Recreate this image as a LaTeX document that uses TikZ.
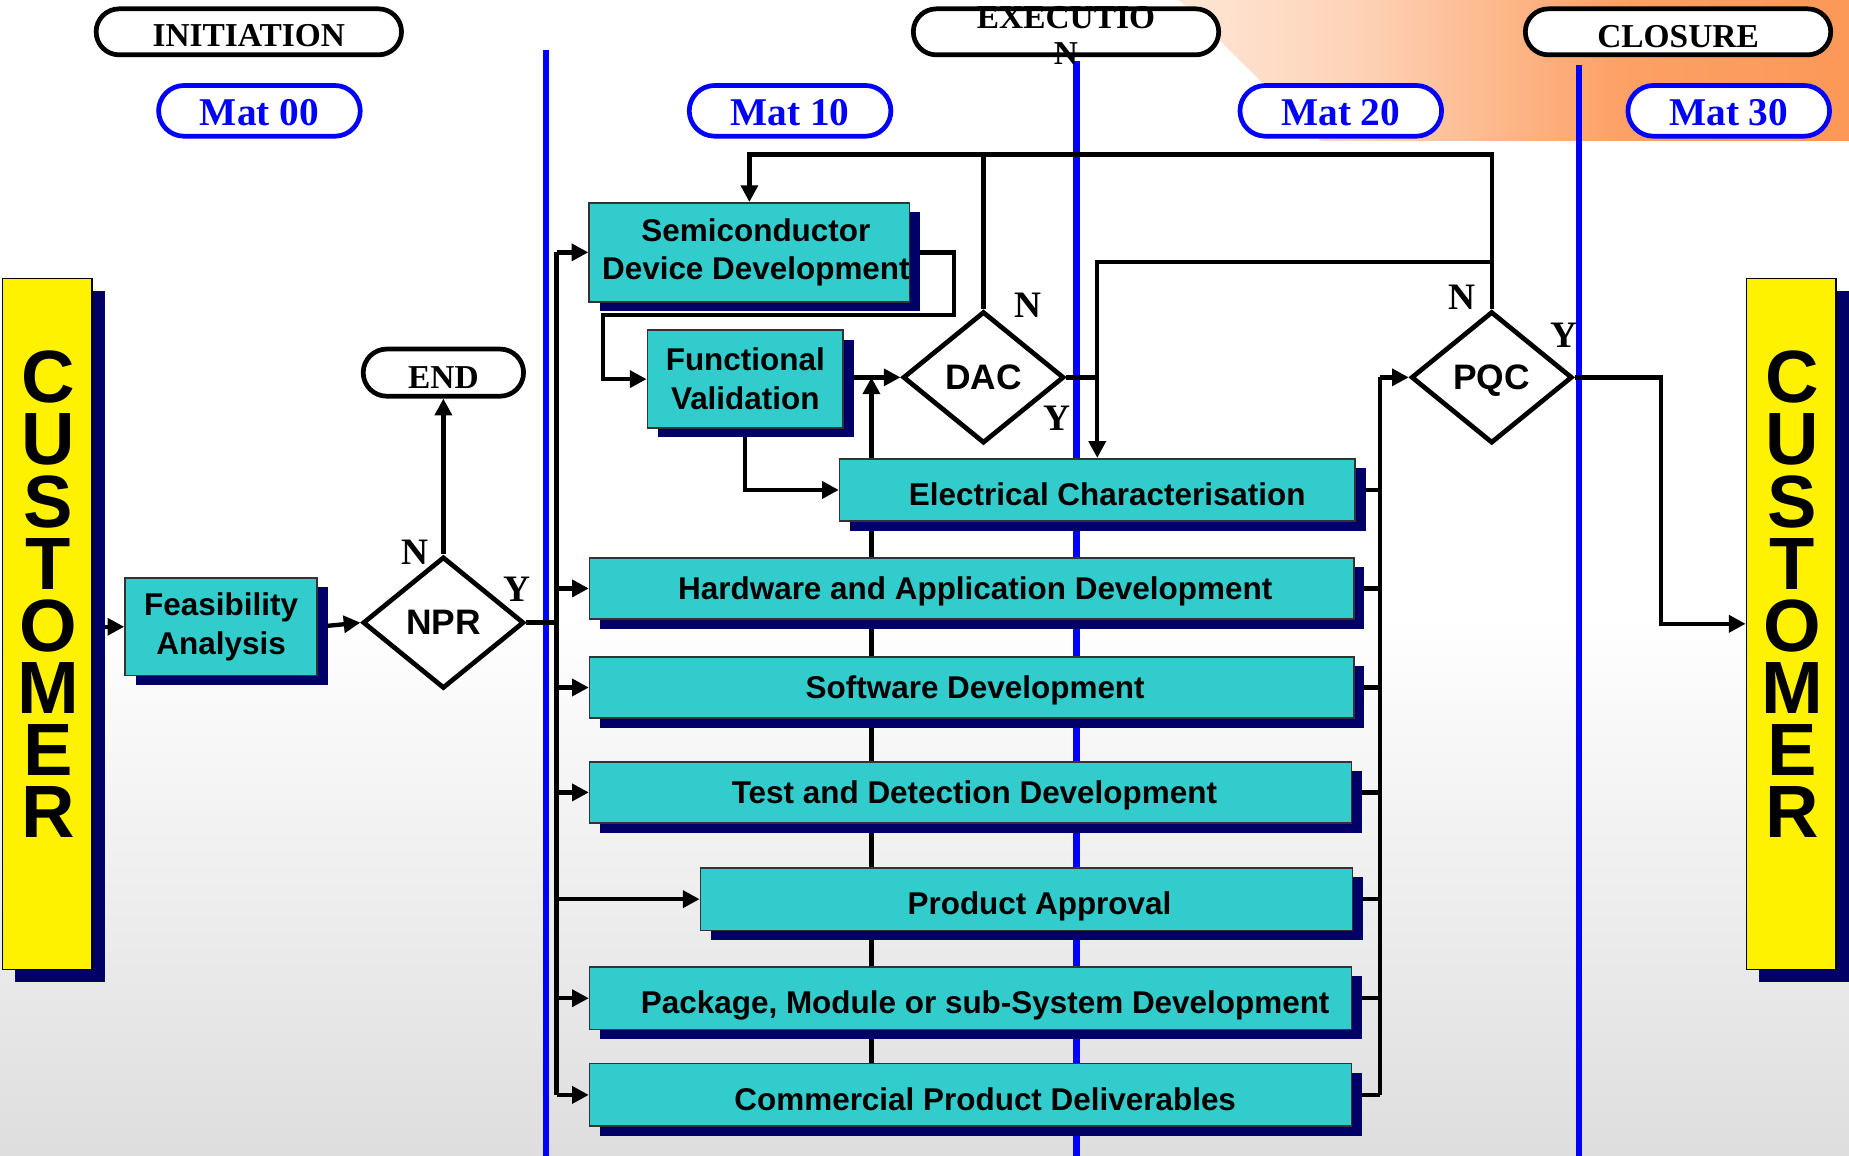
\documentclass[tikz,border=0pt]{standalone}
\usepackage{fontspec}
\setmainfont{Liberation Serif}
\setsansfont{Liberation Sans}
\usetikzlibrary{shapes.geometric,shapes.misc,arrows.meta,shadows,calc}
\definecolor{teal1}{HTML}{33CCCC}
\definecolor{navy1}{HTML}{000066}
\definecolor{blue1}{HTML}{0000FF}
\definecolor{orng}{RGB}{252,140,68}
\pgfdeclarehorizontalshading{banner}{100bp}{color(0bp)=(white); color(7bp)=(white); color(38bp)=(orng!38); color(58bp)=(orng!82); color(100bp)=(orng)}
\pgfdeclarelayer{bg}
\pgfdeclarelayer{conn}
\pgfsetlayers{bg,conn,main}
\newcommand{\dn}[2]{\raisebox{-#1}[\height][\depth]{#2}}
\begin{document}
\begin{tikzpicture}[x=0.6pt,y=-0.6pt,
  arr/.style={line width=2.2pt,-{Triangle[length=8.5pt,width=8.5pt]}},
  ln/.style={line width=2.2pt},
  box/.style={draw=black!80,line width=0.8pt,fill=teal1,font=\sffamily\bfseries\fontsize{16}{19.8}\selectfont,align=center,inner sep=0pt,drop shadow={shadow xshift=5.4pt,shadow yshift=-4.8pt,fill=navy1,opacity=1}},
  box1/.style={box,text depth=0pt},
  dia/.style={diamond,draw,line width=2.4pt,fill=white,minimum width=82pt,minimum height=67pt,inner sep=0pt,text depth=0pt,font=\sffamily\bfseries\fontsize{18}{20}\selectfont},
  hdr/.style={rounded rectangle,draw,line width=2.4pt,fill=white,minimum width=155.4pt,minimum height=23.4pt,inner sep=0pt,font=\bfseries\fontsize{17}{18}\selectfont},
  mat/.style={rounded rectangle,draw=blue1,line width=2.4pt,fill=white,text=blue1,minimum width=102.6pt,minimum height=25.8pt,inner sep=0pt,font=\bfseries\fontsize{20}{22}\selectfont},
  yn/.style={font=\bfseries\fontsize{19}{20}\selectfont,inner sep=0pt},
  cust/.style={draw=black,line width=0.8pt,fill=yellow,minimum width=45.6pt,minimum height=351.6pt,inner sep=0pt,drop shadow={shadow xshift=6.6pt,shadow yshift=-6.6pt,fill=navy1,opacity=1}},
  custtxt/.style={inner sep=0pt,font=\sffamily\bfseries\fontsize{37.7}{40}\selectfont},
  phase/.style={draw=blue1,line width=3.3pt}
]
\useasboundingbox (0,0) rectangle (1568,980);
\begin{pgfonlayer}{bg}
  \fill[white] (0,0) rectangle (1568,980);
  \shade[top color=white,bottom color=black!13] (0,520) rectangle (1568,980);
  \shade[shading=banner] (1000,0) -- (1568,0) -- (1568,119.5) -- (1120,119.5) -- cycle;
  \draw[phase] (463,42) -- (463,980);
  \draw[phase] (913,52) -- (913,980);
  \draw[phase] (1339,55) -- (1339,980);
\end{pgfonlayer}

% headers
\node[hdr] (init) at (211,27) {\dn{1.9pt}{INITIATION}};
\node[hdr] (exec) at (904,27) {};
\node[align=center,inner sep=0pt,font=\bfseries\fontsize{17}{18}\selectfont] (execT) at (904,30) {EXECUTIO\\N};
\node[hdr] (clos) at (1423,27) {\dn{2.2pt}{CLOSURE}};
\node[mat] (m00) at (220,94) {\dn{1pt}{Mat 00}};
\node[mat] (m10) at (670,94) {\dn{1pt}{Mat 10}};
\node[mat] (m20) at (1137,94) {\dn{1pt}{Mat 20}};
\node[mat] (m30) at (1466,94) {\dn{1pt}{Mat 30}};

% customers
\node[cust] (custL) at (40,529) {};
\node[cust] (custR) at (1519,529) {};
\foreach \l [count=\i] in {C,U,S,T,O,M,E,R} {
  \node[custtxt] (cl\i) at (41,{320+52.7*(\i-1)}) {\l};
  \node[custtxt] (cr\i) at (1520,{320+52.7*(\i-1)}) {\l};
}

% initiation
\node[box,minimum width=97.8pt,minimum height=49.8pt] (fea) at (187.5,531.5) {Feasibility\\Analysis};
\node[dia] (npr) at (376,528) {NPR};
\node[hdr,minimum width=81.6pt,minimum height=24pt] (endn) at (376,316) {\dn{2.4pt}{END}};
\node[yn] (nprN) at (352,468) {N};
\node[yn] (nprY) at (438,500) {Y};

% execution boxes
\node[box,minimum width=162.6pt,minimum height=50.4pt] (sdd) at (635.5,214) {\hspace*{6.6pt}Semiconductor\\\hspace*{6.6pt}Device Development};
\node[box,minimum width=99.6pt,minimum height=49.8pt] (fv) at (632,321.5) {Functional\\Validation};
\node[box1,minimum width=262.2pt,minimum height=31.8pt] (ec) at (930.5,415.5) {\hspace*{10.2pt}\dn{2pt}{Electrical Characterisation}};
\node[box1,minimum width=388.8pt,minimum height=31.2pt] (had) at (824,499) {\hspace*{3.6pt}Hardware and Application Development};
\node[box1,minimum width=388.8pt,minimum height=31.2pt] (sd) at (824,583) {\hspace*{3.6pt}Software Development};
\node[box1,minimum width=387.6pt,minimum height=31.2pt] (tdd) at (823,672) {\hspace*{4pt}Test and Detection Development};
\node[box1,minimum width=331.8pt,minimum height=31.8pt] (pa) at (870.5,762.5) {\hspace*{13.2pt}\dn{2pt}{Product Approval}};
\node[box1,minimum width=387.6pt,minimum height=31.8pt] (pmd) at (823,846.5) {\hspace*{15pt}\dn{2pt}{Package, Module or sub-System Development}};
\node[box1,minimum width=387.6pt,minimum height=31.8pt] (cpd) at (823,928.5) {\hspace*{15pt}\dn{2pt}{Commercial Product Deliverables}};

\node[dia] (dac) at (834,320) {DAC};
\node[dia] (pqc) at (1265,320) {PQC};
\node[yn] (dacN) at (872,259) {N};
\node[yn] (dacY) at (896,355) {Y};
\node[yn] (pqcN) at (1240,252) {N};
\node[yn] (pqcY) at (1326,284) {Y};

\coordinate (bx) at (472,0);
\coordinate (rx) at (1170,0);
\coordinate (ty) at (0,131);
\coordinate (my) at (0,222);
\coordinate (fbx) at (739,0);

\begin{pgfonlayer}{conn}
  \draw[arr] (custL.east |- fea.west) -- (fea.west);
  \draw[arr] (fea.east) -- (npr.west);
  \draw[arr] (npr.north) -- (endn.south);
  \draw[ln] (npr.east) -- (npr.east -| bx);
  \draw[ln] (bx |- sdd.west) -- (bx |- cpd.west);
  \foreach \n in {sdd,had,sd,tdd,pa,pmd,cpd} \draw[arr] (bx |- \n.west) -- (\n.west);
  \foreach \n in {ec,had,sd,tdd,pa,pmd,cpd} \draw[ln] (\n.east) -- (rx |- \n.east);
  \draw[ln] (rx |- cpd.east) -- (rx |- pqc.west);
  \draw[arr] (rx |- pqc.west) -- (pqc.west);
  \draw[arr] (pqc.east) -- ++(73,0) |- (custR.west);
  \draw[arr] (pqc.north) -- (pqc.north |- ty) -| (sdd.north);
  \draw[ln] (dac.north) -- (dac.north |- ty);
  \draw[arr] (pqc.north |- my) -| (ec.north);
  \draw[ln] (dac.east) -- (dac.east -| ec.north);
  \draw[arr] (sdd.east) -- ++(37,0) -- ++(0,53) -| ($(fv.west)+(-37,0)$) -- (fv.west);
  \draw[arr] (fv.east |- dac.west) -- (dac.west);
  \draw[arr] (fv.south) |- (ec.west);
  \draw[arr] (fbx |- cpd.north) -- (fbx |- dac.west);
\end{pgfonlayer}
\end{tikzpicture}
\end{document}
